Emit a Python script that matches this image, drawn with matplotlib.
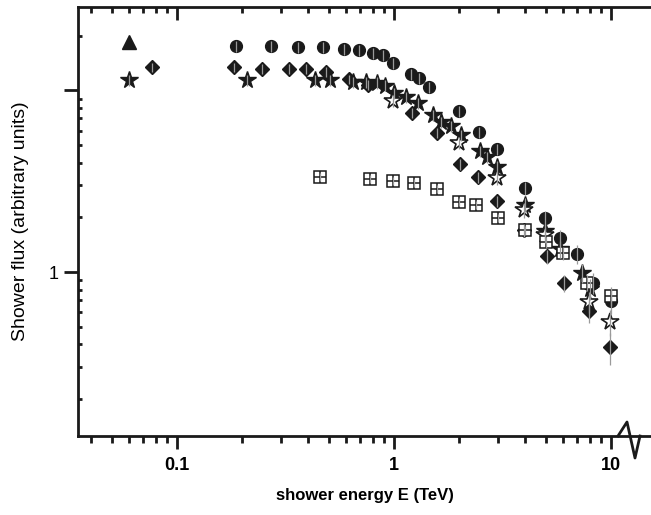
import numpy as np
import matplotlib
matplotlib.use("Agg")
import matplotlib.pyplot as plt
from matplotlib.ticker import FixedLocator, FuncFormatter, LogLocator, NullFormatter
from matplotlib.lines import Line2D

plt.rcParams['font.family'] = ['Liberation Sans', 'DejaVu Sans']

# Data (energy in TeV, flux in arbitrary units)
E_tri = [0.060]
F_tri = [18.4]

E_circ = [0.187, 0.271, 0.361, 0.471, 0.588, 0.690, 0.800, 0.890, 0.99, 1.20, 1.30,
          1.45, 2.0, 2.46, 2.98, 4.02, 4.97, 5.82, 6.97, 8.26, 10.0]
F_circ = [17.5, 17.5, 17.3, 17.3, 16.9, 16.7, 16.0, 15.6, 14.1, 12.3, 11.7,
          10.4, 7.69, 5.89, 4.75, 2.90, 1.98, 1.54, 1.26, 0.870, 0.692]
R_circ = [0.07, 0.07, 0.07, 0.07, 0.07, 0.07, 0.07, 0.07, 0.07, 0.07, 0.07,
          0.07, 0.07, 0.07, 0.07, 0.08, 0.09, 0.10, 0.12, 0.13, 0.15]

E_dia = [0.0767, 0.183, 0.246, 0.328, 0.393, 0.486, 0.621, 0.759, 1.21, 1.58, 2.01,
         2.44, 2.98, 3.97, 5.07, 6.07, 7.92, 9.9]
F_dia = [13.4, 13.4, 13.1, 13.1, 13.1, 12.6, 11.5, 10.7, 7.50, 5.82, 3.93,
         3.33, 2.46, 1.70, 1.22, 0.87, 0.61, 0.387]
R_dia = [0.06, 0.06, 0.06, 0.06, 0.06, 0.06, 0.06, 0.06, 0.06, 0.06, 0.07,
         0.07, 0.07, 0.08, 0.09, 0.11, 0.14, 0.20]

E_star = [0.0601, 0.210, 0.433, 0.507, 0.647, 0.743, 0.835, 0.909, 1.0, 1.136, 1.29,
          1.51, 1.65, 1.83, 2.04, 2.49, 2.68, 2.98, 4.02, 4.97, 5.82, 7.35, 8.0]
F_star = [11.4, 11.4, 11.4, 11.4, 11.1, 11.1, 11.0, 10.6, 9.67, 9.19, 8.51,
          7.31, 6.69, 6.37, 5.68, 4.63, 4.30, 3.78, 2.34, 1.68, 1.34, 0.99, 0.806]
R_star = [0.07, 0.07, 0.07, 0.07, 0.07, 0.07, 0.07, 0.07, 0.07, 0.07, 0.07,
          0.07, 0.07, 0.07, 0.07, 0.07, 0.07, 0.08, 0.09, 0.10, 0.11, 0.12, 0.13]

E_ostar = [0.99, 1.99, 2.98, 3.97, 4.97, 7.92, 9.9]
F_ostar = [8.73, 5.13, 3.29, 2.19, 1.60, 0.684, 0.531]
R_ostar = [0.07, 0.07, 0.08, 0.09, 0.10, 0.13, 0.16]

E_sq = [0.456, 0.775, 0.99, 1.24, 1.58, 2.0, 2.39, 3.0, 4.0, 5.0, 6.0, 7.75, 10.0]
F_sq = [3.33, 3.25, 3.17, 3.09, 2.86, 2.43, 2.34, 1.98, 1.70, 1.46, 1.27, 0.87, 0.738]
R_sq = [0.05, 0.05, 0.05, 0.05, 0.05, 0.05, 0.05, 0.05, 0.06, 0.07, 0.08, 0.10, 0.12]

fig = plt.figure(figsize=(6.51, 5.15), dpi=100)
ax = fig.add_axes([78 / 651, 1 - 436 / 515, 1 - 78 / 651, (436 - 7) / 515])
ax.set_xscale('log')
ax.set_yscale('log')


def errs(E, F, R):
    F = np.array(F)
    R = np.array(R)
    ax.errorbar(E, F, yerr=F * R, fmt='none', ecolor='#9a9a9a', elinewidth=0.9,
                capsize=0, zorder=5)


# markers
ax.plot(E_circ, F_circ, 'o', color='#1a1a1a', ms=8.5, zorder=3)
ax.plot(E_star, F_star, '*', color='#1a1a1a', ms=13, zorder=3)
ax.plot(E_dia, F_dia, 'D', color='#1a1a1a', ms=7.5, zorder=3)
ax.plot(E_tri, F_tri, '^', color='#1a1a1a', ms=10, zorder=3)
ax.plot(E_ostar, F_ostar, '*', mfc='white', mec='#1a1a1a', mew=1.2, ms=13, zorder=4)
ax.plot(E_sq, F_sq, 's', mfc='white', mec='#1a1a1a', mew=1.1, ms=8, zorder=4)
ax.plot(E_sq, F_sq, '+', color='#1a1a1a', mew=1.1, ms=8, zorder=4)

for E, F, R in [(E_circ, F_circ, R_circ), (E_dia, F_dia, R_dia), (E_star, F_star, R_star),
                (E_ostar, F_ostar, R_ostar), (E_sq, F_sq, R_sq)]:
    errs(E, F, R)

ax.set_xlim(10 ** -1.456, 10 ** 1.184)
ax.set_ylim(10 ** -0.9026, 10 ** 1.4585)

# spines
for s in ['left', 'bottom', 'top']:
    ax.spines[s].set_linewidth(2)
    ax.spines[s].set_color('#1a1a1a')
ax.spines['right'].set_visible(False)

# x ticks
ax.xaxis.set_major_locator(FixedLocator([0.1, 1, 10]))
ax.xaxis.set_major_formatter(FuncFormatter(lambda v, p: {0.1: '0.1', 1: '1', 10: '10'}.get(round(v, 3), '')))
ax.xaxis.set_minor_locator(LogLocator(base=10, subs=np.arange(2, 10), numticks=20))
ax.xaxis.set_minor_formatter(NullFormatter())
ax.tick_params(axis='x', which='major', direction='out', length=9, width=2, labelsize=13, pad=6,
               top=False, color='#1a1a1a')
ax.tick_params(axis='x', which='minor', direction='out', length=5, width=2, top=False,
               color='#1a1a1a')
for lbl in ax.get_xticklabels():
    lbl.set_fontweight('bold')

# y ticks
ax.yaxis.set_major_locator(FixedLocator([1, 10]))
ax.yaxis.set_major_formatter(FuncFormatter(lambda v, p: '1' if abs(v - 1) < 1e-6 else ''))
ax.yaxis.set_minor_locator(LogLocator(base=10, subs=np.arange(2, 10), numticks=20))
ax.yaxis.set_minor_formatter(NullFormatter())
ax.tick_params(axis='y', which='major', direction='out', length=10, width=2, labelsize=13, pad=4,
               right=False, color='#1a1a1a')
ax.tick_params(axis='y', which='minor', direction='in', length=3, width=2, right=False,
               color='#1a1a1a')

# top axis with inward ticks
ax2 = ax.twiny()
ax2.set_xscale('log')
ax2.set_xlim(ax.get_xlim())
ax2.xaxis.set_major_locator(FixedLocator([0.1, 1, 10]))
ax2.xaxis.set_minor_locator(LogLocator(base=10, subs=np.arange(2, 10), numticks=20))
ax2.xaxis.set_major_formatter(NullFormatter())
ax2.xaxis.set_minor_formatter(NullFormatter())
ax2.tick_params(axis='x', which='major', direction='in', length=9, width=2, color='#1a1a1a')
ax2.tick_params(axis='x', which='minor', direction='in', length=4, width=2, color='#1a1a1a')
for s in ax2.spines.values():
    s.set_visible(False)

ax.set_xlabel('shower energy E (TeV)', fontsize=12, fontweight='bold', labelpad=10)
ax.set_ylabel('Shower flux (arbitrary units)', fontsize=14, labelpad=14)

# axis break mark on the bottom axis
bx = np.array([618, 627, 635, 640]) / 651
by = 1 - np.array([436, 422, 458, 436]) / 515
fig.add_artist(Line2D(bx, by, transform=fig.transFigure, color='#1a1a1a', lw=2))

fig.savefig('out.png', dpi=100)
